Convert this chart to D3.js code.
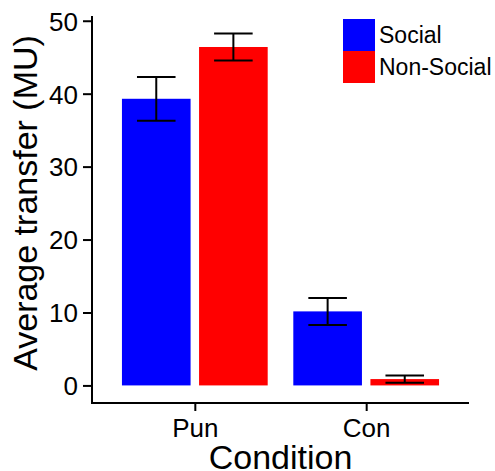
<html>
<head>
<script src="https://d3js.org/d3.v7.min.js"></script>
<style>
body { margin: 0; background: #fff; }
text { font-family: Arial, "Liberation Sans", sans-serif; fill: #000; }
</style>
</head>
<body>
<div id="plot"></div>
<script>

var conditions = ["Pun", "Con"];
var groups = ["Social", "Non-Social"];
var colors = ["#0000ff", "#ff0000"];
var yTicks = [0, 10, 20, 30, 40, 50];

// mean and standard error, one entry per condition
var socialMeans = [39.3, 10.15];
var socialErr = [3.0, 1.85];
var nonSocialMeans = [46.4, 0.87];
var nonSocialErr = [1.85, 0.5];

var width = 495, height = 471;
var plotLeft = 92, plotRight = 469, plotTop = 16, plotBottom = 403;

var rows = [];
conditions.forEach(function (c, i) {
  rows.push({ cond: c, group: "Social", mean: socialMeans[i], err: socialErr[i] });
  rows.push({ cond: c, group: "Non-Social", mean: nonSocialMeans[i], err: nonSocialErr[i] });
});

var svg = d3.select("#plot").append("svg")
  .attr("width", width).attr("height", height);

var x = d3.scalePoint().domain(conditions).range([plotLeft, plotRight]).padding(0.6);
var dodge = x.step() * 0.9;
var sub = d3.scaleBand().domain(groups).range([-dodge / 2, dodge / 2])
  .paddingInner(0.11).paddingOuter(0.055);
var color = d3.scaleOrdinal().domain(groups).range(colors);

var y = d3.scaleLinear().domain([-2.41, 50.65]).range([plotBottom, plotTop]);

// bars
svg.append("g").selectAll("rect").data(rows).enter().append("rect")
  .attr("x", function (d) { return x(d.cond) + sub(d.group); })
  .attr("width", sub.bandwidth())
  .attr("y", function (d) { return y(d.mean); })
  .attr("height", function (d) { return y(0) - y(d.mean); })
  .attr("fill", function (d) { return color(d.group); });

// error bars
var capW = sub.step() * 0.5;
var eb = svg.append("g").attr("stroke", "#000").attr("stroke-width", 2)
  .selectAll("g").data(rows).enter().append("g")
  .attr("transform", function (d) {
    return "translate(" + (x(d.cond) + sub(d.group) + sub.bandwidth() / 2) + ",0)";
  });
eb.append("line")
  .attr("y1", function (d) { return y(d.mean - d.err); })
  .attr("y2", function (d) { return y(d.mean + d.err); });
eb.append("line").attr("x1", -capW / 2).attr("x2", capW / 2)
  .attr("y1", function (d) { return y(d.mean + d.err); })
  .attr("y2", function (d) { return y(d.mean + d.err); });
eb.append("line").attr("x1", -capW / 2).attr("x2", capW / 2)
  .attr("y1", function (d) { return y(d.mean - d.err); })
  .attr("y2", function (d) { return y(d.mean - d.err); });

// axes
var yAxis = d3.axisLeft(y).tickValues(yTicks).tickSize(9).tickPadding(5);
var gy = svg.append("g").attr("transform", "translate(" + plotLeft + ",0)").call(yAxis);
var xAxis = d3.axisBottom(x).tickSize(8).tickPadding(8);
var gx = svg.append("g").attr("transform", "translate(0," + plotBottom + ")").call(xAxis);

[gy, gx].forEach(function (g) {
  g.select(".domain").remove();
  g.selectAll(".tick line").attr("stroke", "#000").attr("stroke-width", 2);
  g.selectAll(".tick text").attr("font-size", 26).attr("fill", "#000")
    .attr("font-family", "Arial, 'Liberation Sans', sans-serif");
});
gy.selectAll(".tick text").attr("dy", "0.36em");

svg.append("path")
  .attr("d", "M" + plotLeft + "," + plotTop + "V" + plotBottom + "H" + plotRight)
  .attr("fill", "none").attr("stroke", "#000").attr("stroke-width", 2);

// titles
svg.append("text").attr("x", (plotLeft + plotRight) / 2).attr("y", 469)
  .attr("text-anchor", "middle").attr("font-size", 34).text("Condition");
svg.append("text").attr("transform", "translate(37,203) rotate(-90)")
  .attr("text-anchor", "middle").attr("font-size", 34).text("Average transfer (MU)");

// legend
var lg = svg.append("g").attr("transform", "translate(343,19)");
var item = lg.selectAll("g").data(groups).enter().append("g")
  .attr("transform", function (d, i) { return "translate(0," + (i * 32) + ")"; });
item.append("rect").attr("width", 32).attr("height", 32)
  .attr("fill", function (d) { return color(d); });
item.append("text").attr("x", 36).attr("y", 16).attr("dy", "0.36em")
  .attr("font-size", 23).text(function (d) { return d; });

</script>
</body>
</html>
